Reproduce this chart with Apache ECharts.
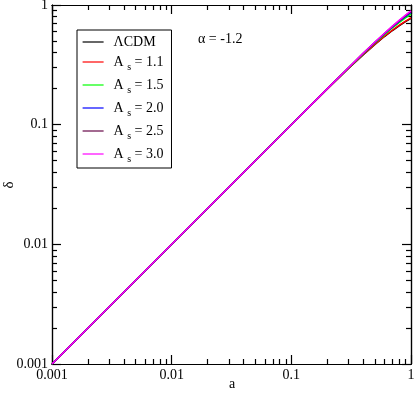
<!DOCTYPE html>
<html>
<head>
<meta charset="utf-8">
<script src="https://cdn.jsdelivr.net/npm/echarts@6/dist/echarts.min.js"></script>
<style>
  html, body { margin: 0; padding: 0; background: #fff; }
  #chart { width: 415px; height: 393px; }
</style>
</head>
<body>
<div id="chart"></div>
<script>
// scale factor a and growth delta for each model
var aValues = [0.001, 0.01, 0.1, 0.2, 0.3, 0.4, 0.5, 0.6, 0.7, 0.8, 0.9, 1.0];
var lcdm  = [0.001, 0.01, 0.1, 0.199, 0.295, 0.385, 0.468, 0.545, 0.612, 0.672, 0.725, 0.772];
var as11  = [0.001, 0.01, 0.1, 0.199, 0.295, 0.386, 0.470, 0.548, 0.617, 0.678, 0.732, 0.780];
var as15  = [0.001, 0.01, 0.1, 0.200, 0.297, 0.392, 0.482, 0.566, 0.645, 0.716, 0.780, 0.838];
var as20  = [0.001, 0.01, 0.1, 0.200, 0.298, 0.395, 0.487, 0.575, 0.657, 0.733, 0.803, 0.866];
var as25  = [0.001, 0.01, 0.1, 0.200, 0.299, 0.396, 0.489, 0.578, 0.662, 0.741, 0.814, 0.880];
var as30  = [0.001, 0.01, 0.1, 0.200, 0.299, 0.397, 0.491, 0.581, 0.666, 0.747, 0.822, 0.893];

var majorTicks = [0.001, 0.01, 0.1, 1];
var minorTicks = [];
[0.001, 0.01, 0.1].forEach(function (d) {
  for (var k = 2; k <= 9; k++) minorTicks.push(+(d * k).toPrecision(3));
});

var FONT = 'Liberation Serif';

function pairs(ys) {
  return aValues.map(function (a, i) { return [a, ys[i]]; });
}

function logAxis(pos, ticks, len, withLabel) {
  return {
    type: 'log',
    min: 0.001,
    max: 1,
    position: pos,
    splitLine: { show: false },
    axisLine: { show: true, lineStyle: { color: '#000', width: 1.2 } },
    axisTick: { show: true, inside: true, length: len, customValues: ticks,
                lineStyle: { color: '#000', width: 1.2 } },
    axisLabel: { show: withLabel, color: '#000',
                 fontFamily: FONT, fontSize: 14, margin: 4,
                 formatter: function (v) { return String(+v.toPrecision(3)); } }
  };
}

var chart = echarts.init(document.getElementById('chart'), null, { renderer: 'canvas' });

var colors = ['#000000', '#ff0000', '#00ff00', '#0000ff', '#670748', '#ff00ff'];
var names = ['ΛCDM', 'As = 1.1', 'As = 1.5', 'As = 2.0', 'As = 2.5', 'As = 3.0'];
var sets = [lcdm, as11, as15, as20, as25, as30];

var series = sets.map(function (d, i) {
  return {
    name: names[i],
    type: 'line',
    xAxisIndex: 0,
    yAxisIndex: 0,
    symbol: 'none',
    data: pairs(d),
    lineStyle: { color: colors[i], width: 1.5 },
    itemStyle: { color: colors[i] },
    z: 2 + i
  };
});

chart.setOption({
  animation: false,
  backgroundColor: '#fff',
  grid: { left: 52, right: 4, top: 5, bottom: 29, containLabel: false, outerBoundsMode: 'none' },
  xAxis: [
    logAxis('bottom', majorTicks, 9, true),
    logAxis('bottom', minorTicks, 5, false),
    logAxis('top', majorTicks, 9, false),
    logAxis('top', minorTicks, 5, false)
  ],
  yAxis: [
    logAxis('left', majorTicks, 9, true),
    logAxis('left', minorTicks, 5, false),
    logAxis('right', majorTicks, 9, false),
    logAxis('right', minorTicks, 5, false)
  ],
  legend: {
    orient: 'vertical',
    left: 77,
    top: 30,
    width: 94,
    padding: [5, 8, 4, 5],
    itemWidth: 21,
    itemHeight: 14,
    itemGap: 6,
    borderColor: '#000',
    borderWidth: 1,
    backgroundColor: '#fff',
    itemStyle: { opacity: 0 },
    lineStyle: { width: 1.2 },
    data: names,
    textStyle: {
      fontFamily: FONT, fontSize: 14, color: '#000', padding: [0, 0, 0, 5],
      rich: {
        m: { fontFamily: FONT, fontSize: 14, color: '#000' },
        s: { fontFamily: FONT, fontSize: 10, color: '#000', padding: [10, 0, 0, 0] }
      }
    },
    formatter: function (n) {
      if (n.indexOf('As') === 0) return '{m|A }{s|s}{m| ' + n.slice(3) + '}';
      return '{m|' + n + '}';
    }
  },
  graphic: [
    { type: 'text', left: 198, top: 32,
      style: { text: 'α = -1.2', fontFamily: FONT, fontSize: 14, fill: '#000' } },
    // axis titles
    { type: 'text', x: 232, y: 384,
      style: { text: 'a', fontFamily: FONT, fontSize: 14, fill: '#000',
               align: 'center', verticalAlign: 'middle' } },
    { type: 'text', x: 9, y: 185, rotation: Math.PI / 2,
      style: { text: 'δ', fontFamily: FONT, fontSize: 15, fill: '#000',
               align: 'center', verticalAlign: 'middle' } }
  ],
  series: series
});
</script>
</body>
</html>
